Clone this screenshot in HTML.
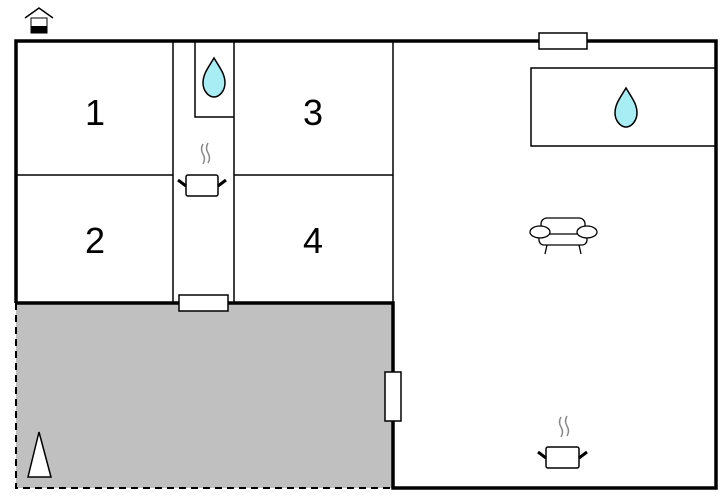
<!DOCTYPE html>
<html><head><style>html,body{margin:0;padding:0;background:#fff;}svg{display:block}</style></head>
<body>
<svg width="720" height="500" viewBox="0 0 720 500" xmlns="http://www.w3.org/2000/svg">
<rect x="16" y="303" width="377" height="185" fill="#c0c0c0"/>
<!-- dashed terrace -->
<path d="M16 303 V488 H393" fill="none" stroke="#000" stroke-width="2" stroke-dasharray="7,5"/>
<!-- thick walls -->
<path d="M16 303 V41 H716 V488 H393 V303 H16" fill="none" stroke="#000" stroke-width="3.5"/>
<!-- thin walls -->
<g stroke="#000" stroke-width="1.5" fill="none">
<line x1="393" y1="41" x2="393" y2="303"/>
<line x1="173" y1="41" x2="173" y2="303"/>
<line x1="234" y1="41" x2="234" y2="303"/>
<line x1="16" y1="175" x2="173" y2="175"/>
<line x1="234" y1="175" x2="393" y2="175"/>
<path d="M195 41 V117 H234"/>
<rect x="531" y="68" width="185" height="78"/>
</g>
<!-- windows -->
<g fill="#fff" stroke="#000" stroke-width="1.5">
<rect x="539" y="33" width="48" height="16"/>
<rect x="179" y="295" width="49" height="16"/>
<rect x="385" y="372" width="16" height="49"/>
</g>
<!-- numbers -->
<g font-family="Liberation Sans, sans-serif" font-size="36" text-anchor="middle">
<text x="95" y="125">1</text>
<text x="95" y="253">2</text>
<text x="313" y="125">3</text>
<text x="313" y="253">4</text>
</g>
<!-- drops -->
<path d="M214 58 C208 68 203 74 203 83 C203 90 208 97 214 97 C220 97 225 90 225 83 C225 74 220 68 214 58 Z" fill="#a8ecf4" stroke="#000" stroke-width="1.5"/>
<path d="M626 88 C620 98 615 104 615 113 C615 120 620 127 626 127 C632 127 637 120 637 113 C637 104 632 98 626 88 Z" fill="#a8ecf4" stroke="#000" stroke-width="1.5"/>
<!-- pot 1 -->
<g stroke="#000" stroke-width="1.5" fill="#fff">
<path d="M203 144 q-3 5 0 10 q3 5 0 10" stroke="#888" fill="none"/>
<path d="M208 143 q-3 5 0 10 q3 5 0 10" stroke="#888" fill="none"/>
<rect x="186" y="175" width="32" height="21" rx="2"/>
<line x1="178" y1="180" x2="186" y2="186" stroke-width="3"/>
<line x1="226" y1="180" x2="218" y2="186" stroke-width="3"/>
</g>
<!-- pot 2 -->
<g stroke="#000" stroke-width="1.5" fill="#fff">
<path d="M561 417 q-3 5 0 10 q3 5 0 10" stroke="#888" fill="none"/>
<path d="M567 416 q-3 5 0 10 q3 5 0 10" stroke="#888" fill="none"/>
<rect x="546" y="447" width="33" height="21" rx="2"/>
<line x1="538" y1="452" x2="546" y2="458" stroke-width="3"/>
<line x1="587" y1="452" x2="579" y2="458" stroke-width="3"/>
</g>
<!-- sofa -->
<g stroke="#000" stroke-width="1.3" fill="#fff">
<rect x="541" y="218" width="44" height="18" rx="6"/>
<rect x="539" y="234" width="48" height="11" rx="5"/>
<ellipse cx="540" cy="232" rx="10" ry="6"/>
<ellipse cx="587" cy="232" rx="10" ry="6"/>
<line x1="547" y1="245" x2="545" y2="254"/>
<line x1="579" y1="245" x2="581" y2="254"/>
</g>
<!-- triangle -->
<path d="M39 432 L28 477 H51 Z" fill="#fff" stroke="#000" stroke-width="1.5"/>
<!-- house icon -->
<path d="M25 18 L39 8 L53 18" fill="none" stroke="#000" stroke-width="1.5"/>
<rect x="31" y="18" width="16" height="15" fill="#fff" stroke="#000" stroke-width="1"/>
<rect x="31" y="26" width="16" height="7" fill="#000"/>
</svg>
</body></html>
